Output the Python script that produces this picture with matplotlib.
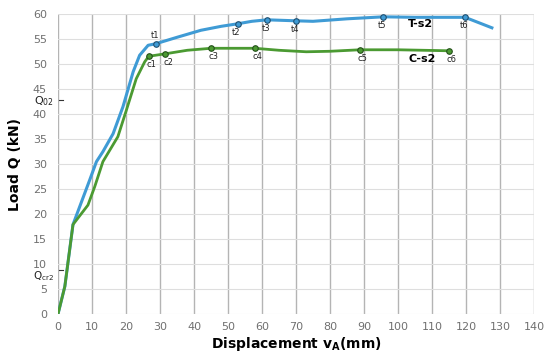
import matplotlib.pyplot as plt
import numpy as np

# T-s2 curve (blue)
t_x = [0, 2, 4.4, 9.3, 11.3, 13.2, 16.2, 19.1, 22.1, 24.0, 26.5, 28.7, 35, 42, 48, 52.8, 57, 61.4, 70, 75, 85, 95.7, 105, 119.7, 127.6]
t_y = [0, 5.5, 17.9, 26.8, 30.5, 32.5, 36.1, 41.5, 48.5, 51.8, 53.8, 54.1, 55.4, 56.8, 57.6, 58.1, 58.6, 58.9, 58.7, 58.6, 59.1, 59.5, 59.4, 59.4, 57.3]
# C-s2 curve (green)
c_x = [0, 2, 4.4, 8.8, 10.8, 13.2, 17.6, 20.1, 23.0, 25.5, 26.7, 31.6, 38, 45, 57.9, 65, 73, 80, 88.8, 100, 114.9]
c_y = [0, 5.5, 17.9, 21.8, 25.5, 30.5, 35.5, 40.8, 47.1, 50.5, 51.6, 52.1, 52.8, 53.2, 53.2, 52.8, 52.5, 52.6, 52.9, 52.9, 52.7]

# marked points
t_pts = {'t1': (28.7, 54.1), 't2': (52.8, 58.1), 't3': (61.4, 58.9),
         't4': (70, 58.7), 't5': (95.7, 59.5), 't6': (119.7, 59.4)}
c_pts = {'c1': (26.7, 51.6), 'c2': (31.6, 52.1), 'c3': (45, 53.2),
         'c4': (57.9, 53.2), 'c5': (88.8, 52.9), 'c6': (114.9, 52.7)}

blue = '#3f9bd5'
green = '#4b9a32'

fig = plt.figure(figsize=(5.5, 3.58), dpi=100)
ax = fig.add_axes([0.1055, 0.123, 0.8655, 0.837])

ax.plot(t_x, t_y, color=blue, lw=2.2)
ax.plot(c_x, c_y, color=green, lw=2)

for name, (x, y) in t_pts.items():
    ax.plot(x, y, 'o', ms=4, mfc=blue, mec='#1f4f70', mew=0.8)
    if name == 't1':
        ax.text(x - 0.3, y + 0.7, name, fontsize=6, ha='center', va='bottom', color='#222222')
    else:
        ax.text(x - 0.3, y - 0.8, name, fontsize=6, ha='center', va='top', color='#222222')
for name, (x, y) in c_pts.items():
    ax.plot(x, y, 'o', ms=4, mfc=green, mec='#24501a', mew=0.8)
    ax.text(x + 0.8, y - 0.8, name, fontsize=6, ha='center', va='top', color='#222222')

ax.text(106.6, 58, 'T-s2', fontsize=8, fontweight='bold', ha='center', va='center')
ax.text(107, 51.1, 'C-s2', fontsize=8, fontweight='bold', ha='center', va='center')

ax.set_xlim(0, 140)
ax.set_ylim(0, 60)
ax.set_xticks(np.arange(0, 141, 10))
ax.set_yticks(np.arange(0, 61, 5))
ax.tick_params(length=0, labelsize=8, labelcolor='#707070', pad=8)
ax.tick_params(axis='x', pad=6)
ax.xaxis.grid(True, color='#b4b4b4', lw=1)
ax.yaxis.grid(True, color='#dedede', lw=0.8)
ax.set_axisbelow(True)
for s in ax.spines.values():
    s.set_visible(False)

# Q02 and Qcr2 markers
ax.text(-1.2, 42.6, r'Q$_{\mathregular{02}}$', fontsize=8, ha='right', va='center', color='#222222')
ax.text(-1.2, 7.6, r'Q$_{\mathregular{cr2}}$', fontsize=7.5, ha='right', va='center', color='#222222')
ax.plot([0.4, 1.6], [42.8, 42.8], color='#333333', lw=0.8, clip_on=False)
ax.plot([0.4, 1.6], [8.9, 8.9], color='#333333', lw=0.8, clip_on=False)

ax.set_xlabel(r'Displacement v$_{\mathregular{A}}$(mm)', fontsize=10, fontweight='bold', labelpad=2)
ax.set_ylabel('Load Q (kN)', fontsize=10, fontweight='bold', labelpad=8)

plt.savefig('out.png', dpi=100)
